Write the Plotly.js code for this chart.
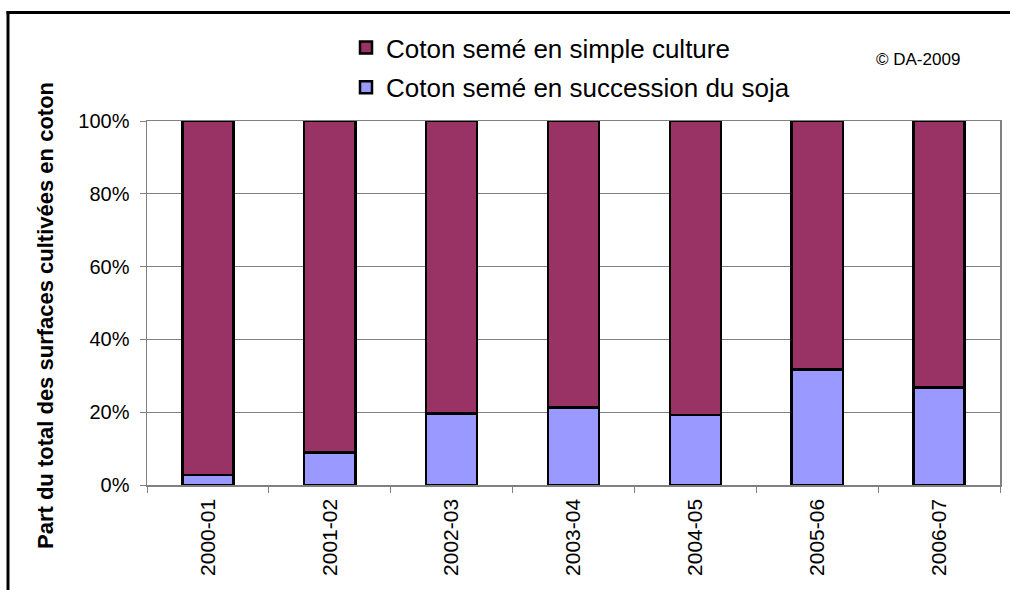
<!DOCTYPE html>
<html><head><meta charset="utf-8">
<script src="https://cdn.plot.ly/plotly-3.0.1.min.js"></script>
<style>html,body{margin:0;padding:0;background:#fff}</style>
</head><body><div id="chart" style="width:1010px;height:590px"></div>
<script>
const categories = ['2000-01', '2001-02', '2002-03', '2003-04', '2004-05', '2005-06', '2006-07'];
const succession = [2.7, 8.9, 19.7, 21.3, 19.2, 31.8, 26.8];
const simple = [97.3, 91.1, 80.3, 78.7, 80.8, 68.2, 73.2];
const seriesNames = ['Coton semé en succession du soja', 'Coton semé en simple culture'];
const yTitle = 'Part du total des surfaces cultivées en coton';
const credit = '© DA-2009';

const FONT = 'Liberation Sans, Arial, sans-serif';
const data = [
  {type: 'bar', x: categories, y: succession, name: seriesNames[0], legendgroup: 'b', legendrank: 2,
   marker: {color: '#9999FF', line: {color: '#000000', width: 2.5}}},
  {type: 'bar', x: categories, y: simple, name: seriesNames[1], legendgroup: 'a', legendrank: 1,
   marker: {color: '#993366', line: {color: '#000000', width: 2.5}}}
];
const px2x = p => (p - 147) / 853;
const px2y = p => (485 - p) / 364;
const layout = {
  width: 1010, height: 590,
  margin: {l: 147, r: 10, t: 121, b: 105, autoexpand: false},
  paper_bgcolor: '#ffffff', plot_bgcolor: '#ffffff',
  barmode: 'stack', bargap: 0.58,
  font: {family: FONT, color: '#000000'},
  showlegend: true,
  legend: {xref: 'paper', yref: 'paper', x: px2x(346), y: px2y(24),
    xanchor: 'left', yanchor: 'top', traceorder: 'grouped', tracegroupgap: 3,
    font: {size: 26, family: FONT}, bgcolor: 'rgba(0,0,0,0)'},
  xaxis: {type: 'category', showline: true, linecolor: '#808080', linewidth: 1.5, mirror: true,
    ticks: 'outside', tickson: 'boundaries', ticklen: 6, tickcolor: '#808080',
    tickangle: -90, tickfont: {size: 21, family: FONT}, ticklabelstandoff: 4, showgrid: false},
  yaxis: {range: [0, 100], dtick: 20, ticksuffix: '%', showgrid: true, gridcolor: '#808080', gridwidth: 1,
    showline: true, linecolor: '#808080', linewidth: 1.5, mirror: true, zeroline: false,
    ticks: 'outside', ticklen: 6, tickcolor: '#808080', tickfont: {size: 20, family: FONT}, ticklabelstandoff: 6},
  annotations: [
    {text: '<b>' + yTitle + '</b>', xref: 'paper', yref: 'paper', x: px2x(45), y: px2y(316), textangle: -90,
     showarrow: false, font: {size: 22, family: FONT, color: '#000'}, xanchor: 'center', yanchor: 'middle'},
    {text: credit, xref: 'paper', yref: 'paper', x: px2x(918), y: px2y(60),
     showarrow: false, font: {size: 17, family: FONT, color: '#000'}, xanchor: 'center', yanchor: 'middle'}
  ],
  shapes: [
    {type: 'line', xref: 'paper', yref: 'paper', x0: px2x(8), x1: px2x(8), y0: px2y(600), y1: px2y(11),
     line: {color: '#000', width: 3}},
    {type: 'line', xref: 'paper', yref: 'paper', x0: px2x(6.5), x1: px2x(1015), y0: px2y(12.5), y1: px2y(12.5),
     line: {color: '#000', width: 3}}
  ]
};
Plotly.newPlot('chart', data, layout, {displayModeBar: false, staticPlot: true});
</script></body></html>
